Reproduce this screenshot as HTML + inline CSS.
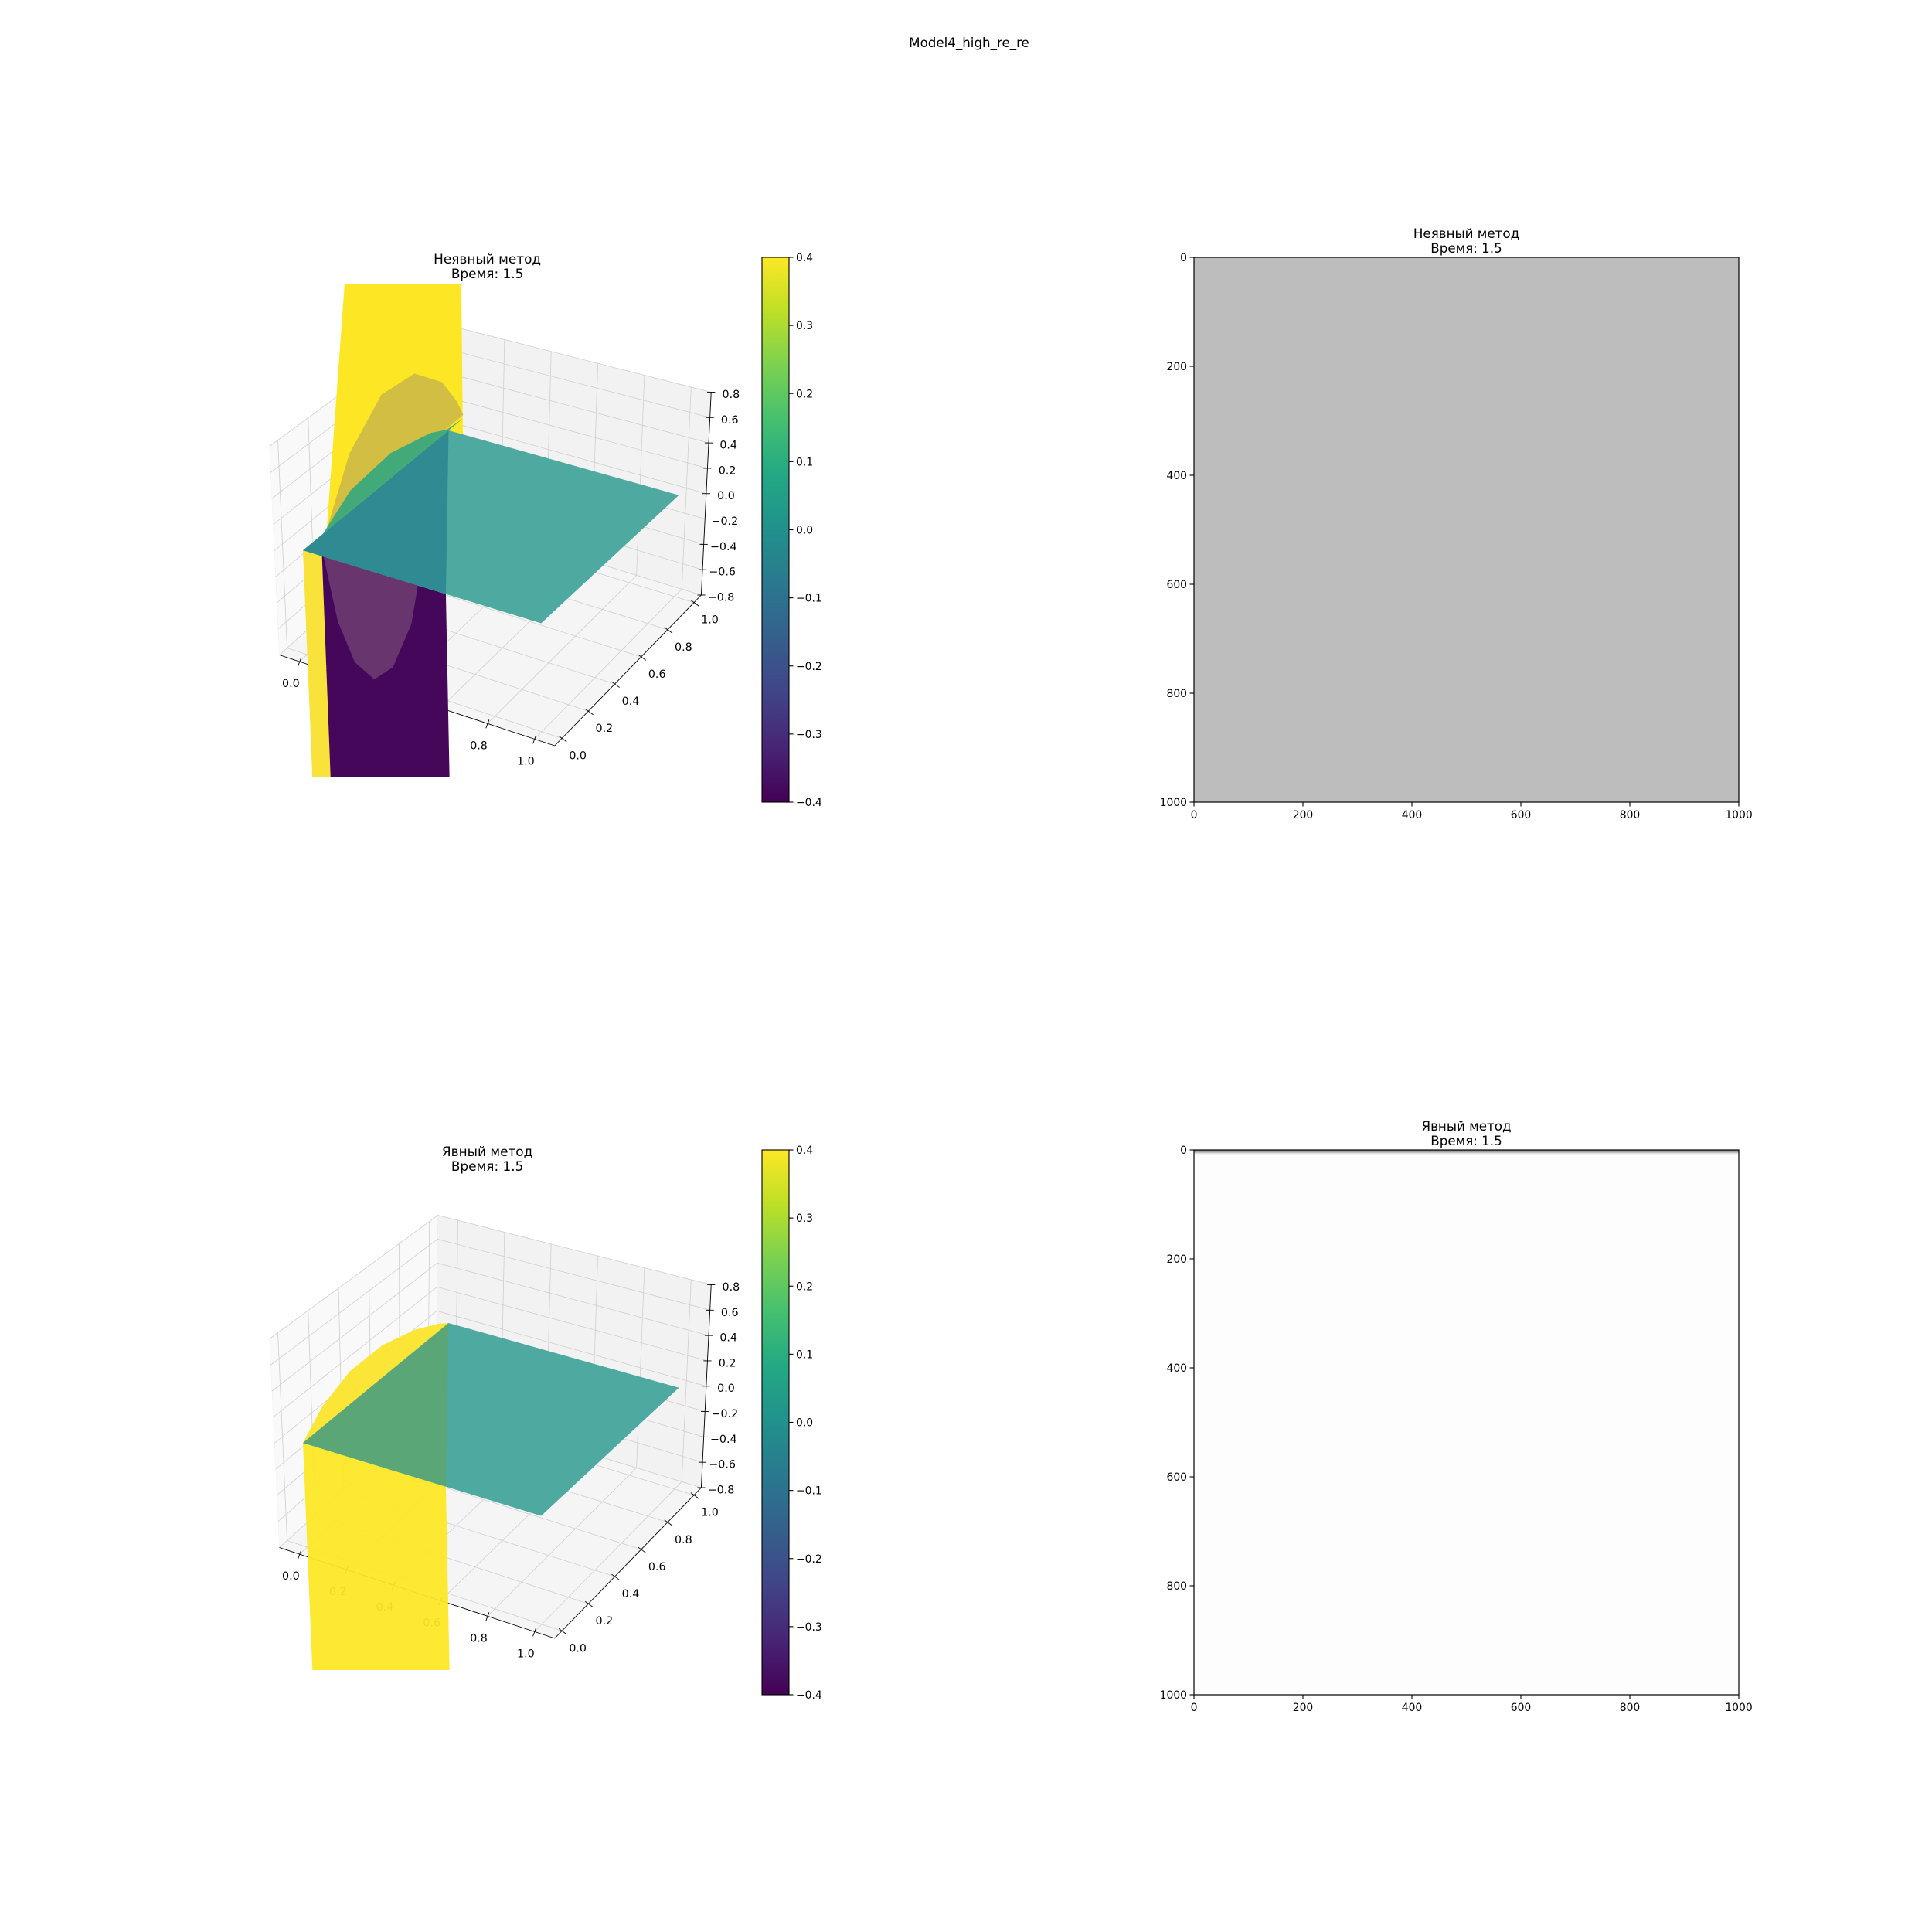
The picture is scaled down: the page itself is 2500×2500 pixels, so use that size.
<!DOCTYPE html>
<html><head><meta charset="utf-8"><style>
html,body{margin:0;padding:0;background:#fff;}
svg{display:block;font-family:"DejaVu Sans","Liberation Sans",sans-serif;}
</style></head><body>
<svg id="fig" width="2500" height="2500" viewBox="0 0 2500 2500" xmlns="http://www.w3.org/2000/svg">
<defs>
<linearGradient id="viridis" x1="0" y1="1" x2="0" y2="0">
<stop offset="0" stop-color="#440154"/><stop offset="0.1" stop-color="#482475"/><stop offset="0.2" stop-color="#414487"/><stop offset="0.3" stop-color="#355f8d"/><stop offset="0.4" stop-color="#2a788e"/><stop offset="0.5" stop-color="#21918c"/><stop offset="0.6" stop-color="#22a884"/><stop offset="0.7" stop-color="#44bf70"/><stop offset="0.8" stop-color="#7ad151"/><stop offset="0.9" stop-color="#bddf26"/><stop offset="1" stop-color="#fde725"/>
</linearGradient>
<clipPath id="clip3d"><rect x="0" y="145" width="1330" height="1277"/></clipPath>
</defs>
<text x="1254" y="61" font-size="16.7" text-anchor="middle">Model4_high_re_re</text>
<g id="top3d" transform="translate(300,295) scale(0.5126,0.5)"></g>
<g id="bot3d" transform="translate(300,1450) scale(0.5126,0.5)"></g>
<g id="cbTop"></g>
<g id="cbBot"></g>
<g id="imTop"></g>
<g id="imBot"></g>
</svg>
<script>
// ---- data ----
const xTicks3d = [0, 0.2, 0.4, 0.6, 0.8, 1.0];
const yTicks3d = [0, 0.2, 0.4, 0.6, 0.8, 1.0];
const zTicks3d = [-0.8, -0.6, -0.4, -0.2, 0, 0.2, 0.4, 0.6, 0.8];
const cbTicks = [-0.4, -0.3, -0.2, -0.1, 0, 0.1, 0.2, 0.3, 0.4];
const imTicks = [0, 200, 400, 600, 800, 1000];
// explicit method surface profiles
const botDomeY = [0, 0.137, 0.329, 0.548, 0.767, 0.93, 1.0];
const botDomeZ = [0, 0.154, 0.255, 0.255, 0.172, 0.062, 0];
const botSheetX = [0, 0.6];
const sheetDepth = -4;
// implicit method surface profiles
const upLobeY = [0.16, 0.329, 0.548, 0.767, 0.95, 1.05, 1.1];
const upLobeZ = [0, 0.45, 0.72, 0.69, 0.45, 0.2, 0.03];
const lowLobeY = [0.137, 0.219, 0.329, 0.466, 0.603, 0.74, 0.795, 0.822];
const lowLobeZ = [-0.18, -0.76, -1.19, -1.47, -1.52, -1.32, -1.02, -0.87];
const greenDomeY = [0.137, 0.329, 0.603, 0.877, 0.986, 1.1];
const greenDomeZ = [0, 0.16, 0.2, 0.1, 0.02, 0];
const upSheetY = [0.15, 0.421, 1.041, 1.10];
const upSheetZ = [-0.13, 3, 3, -0.153];
const topSheetSplitX = [0, 0.08, 0.6];
// heatmap rows (explicit): gray band at first rows
const bandRows = [0, 1, 2, 3, 4, 5, 6, 7];
const bandVals = [0.55, 0.45, 0.5, 0.62, 0.7, 0.8, 0.9, 0.95];

const NS = 'http://www.w3.org/2000/svg';
function mk(tag, attrs, parent) {
  const e = document.createElementNS(NS, tag);
  for (const k in attrs) e.setAttribute(k, attrs[k]);
  parent.appendChild(e);
  return e;
}
// ---- 3D projection (trilinear over box corners, panel-local coords) ----
const xlim = [-0.086, 1.086], ylim = [-0.055, 1.055], zlim = [-0.8, 0.8];
const PC = {
  '000': [120, 1105], '100': [815, 1340], '110': [1185, 950], '010': [515, 740],
  '001': [95, 565], '101': [812, 775], '111': [1210, 425], '011': [520, 245]
};
function proj(x, y, z) {
  const u = (x - xlim[0]) / (xlim[1] - xlim[0]);
  const v = (y - ylim[0]) / (ylim[1] - ylim[0]);
  const w = (z - zlim[0]) / (zlim[1] - zlim[0]);
  let px = 0, py = 0;
  for (const a of [0, 1]) for (const b of [0, 1]) for (const c of [0, 1]) {
    const wt = (a ? u : 1 - u) * (b ? v : 1 - v) * (c ? w : 1 - w);
    const p = PC['' + a + b + c];
    px += wt * p[0]; py += wt * p[1];
  }
  return [px, py];
}
function ptsStr(list) { return list.map(p => { const q = proj(p[0], p[1], p[2]); return q[0].toFixed(1) + ',' + q[1].toFixed(1); }).join(' '); }
function fmt(v) { const s = v.toFixed(1); return v < 0 ? '\u2212' + s.slice(1) : s; }

function drawAxes3d(g) {
  const X0 = xlim[0], X1 = xlim[1], Y0 = ylim[0], Y1 = ylim[1], Z0 = zlim[0], Z1 = zlim[1];
  const leftPane = mk('polygon', { points: ptsStr([[X0, Y0, Z0], [X0, Y1, Z0], [X0, Y1, Z1], [X0, Y0, Z1]]), fill: '#f9f9f9', stroke: '#f0f0f0' }, g);
  
  
  const backPane = mk('polygon', { points: ptsStr([[X0, Y1, Z0], [X1, Y1, Z0], [X1, Y1, Z1], [X0, Y1, Z1]]), fill: '#f2f2f2', stroke: '#ececec' }, g);
  
  
  const floor = mk('polygon', { points: ptsStr([[X0, Y0, Z0], [X1, Y0, Z0], [X1, Y1, Z0], [X0, Y1, Z0]]), fill: '#f5f5f5', stroke: '#eeeeee' }, g);
  
  
  const gs = { stroke: '#cfcfcf', 'stroke-width': 1.6, fill: 'none' };
  const grid = mk('g', {}, g);
  
  
  for (const t of yTicks3d) {
    mk('polyline', Object.assign({ points: ptsStr([[X1, t, Z0], [X0, t, Z0], [X0, t, Z1]]) }, gs), grid);
  }
  for (const t of xTicks3d) {
    mk('polyline', Object.assign({ points: ptsStr([[t, Y0, Z0], [t, Y1, Z0], [t, Y1, Z1]]) }, gs), grid);
  }
  for (const t of zTicks3d) {
    mk('polyline', Object.assign({ points: ptsStr([[X0, Y0, t], [X0, Y1, t], [X1, Y1, t]]) }, gs), grid);
  }
  const ax = mk('g', { stroke: '#000', 'stroke-width': 1.8 }, g);
  
  
  mk('polyline', { points: ptsStr([[X0, Y0, Z0], [X1, Y0, Z0]]), fill: 'none' }, ax);
  mk('polyline', { points: ptsStr([[X1, Y0, Z0], [X1, Y1, Z0]]), fill: 'none' }, ax);
  mk('polyline', { points: ptsStr([[X1, Y1, Z0], [X1, Y1, Z1]]), fill: 'none' }, ax);
  const lab = mk('g', { 'font-size': 27.8, fill: '#000', 'text-anchor': 'middle' }, g);
  
  
  for (const t of xTicks3d) {
    const p = proj(t, Y0, Z0);
    mk('line', { x1: p[0] + 4, y1: p[1] - 10, x2: p[0] - 4, y2: p[1] + 12, stroke: '#000', 'stroke-width': 1.8 }, ax);
    const tx = mk('text', { x: p[0] - 22, y: p[1] + 66 }, lab);
    tx.textContent = fmt(t);
  }
  for (const t of yTicks3d) {
    const p = proj(X1, t, Z0);
    mk('line', { x1: p[0] - 8, y1: p[1] - 6, x2: p[0] + 12, y2: p[1] + 9, stroke: '#000', 'stroke-width': 1.8 }, ax);
    const tx = mk('text', { x: p[0] + 40, y: p[1] + 54 }, lab);
    tx.textContent = fmt(t);
  }
  for (const t of zTicks3d) {
    const p = proj(X1, Y1, t);
    mk('line', { x1: p[0] - 10, y1: p[1], x2: p[0] + 10, y2: p[1], stroke: '#000', 'stroke-width': 1.8 }, ax);
    const tx = mk('text', { x: p[0] + 50, y: p[1] + 15 }, lab);
    tx.textContent = fmt(t);
  }
}
function title3d(g, line1) {
  const t = mk('text', { x: 645, y: 92, 'font-size': 33, 'text-anchor': 'middle' }, g);
  t.textContent = line1;
  
  
  const t2 = mk('text', { x: 645, y: 130, 'font-size': 33, 'text-anchor': 'middle' }, g);
  t2.textContent = 'Время: 1.5';
  
  
}
function planeAndPieces(s, triColor) {
  const plane = mk('polygon', { points: ptsStr([[0, 0, 0], [1, 0, 0], [1, 1, 0], [0, 1, 0]]), fill: '#4ea9a1' }, s);
  
  
  const tri = mk('polygon', { points: ptsStr([[0, 0, 0], [botSheetX[1], 0, 0], [0, 1, 0]]), fill: triColor, opacity: 0.9 }, s);
  
  
}

// ---- bottom 3D (explicit) ----
(function () {
  const g = document.getElementById('bot3d');
  title3d(g, 'Явный метод');
  drawAxes3d(g);
  const s = mk('g', { 'clip-path': 'url(#clip3d)' }, g);
  
  
  const dome = [];
  botDomeY.forEach((y, i) => dome.push([0, y, botDomeZ[i]]));
  const d = mk('polygon', { points: ptsStr(dome), fill: '#fbe52c', opacity: 0.95 }, s);
  
  
  const sh = mk('polygon', { points: ptsStr([[botSheetX[0], 0, 0], [botSheetX[1], 0, 0], [botSheetX[1], 0, sheetDepth], [botSheetX[0], 0, sheetDepth]]), fill: '#fde725', opacity: 0.94 }, s);
  
  
  planeAndPieces(s, '#5da572');
})();

// ---- top 3D (implicit) ----
(function () {
  const g = document.getElementById('top3d');
  title3d(g, 'Неявный метод');
  drawAxes3d(g);
  const s = mk('g', { 'clip-path': 'url(#clip3d)' }, g);
  
  
  const up = upSheetY.map((y, i) => [0, y, upSheetZ[i]]);
  const us = mk('polygon', { points: ptsStr(up), fill: '#fde725' }, s);
  
  
  const ys = mk('polygon', { points: ptsStr([[topSheetSplitX[0], 0, 0], [topSheetSplitX[1], 0, 0], [topSheetSplitX[1], 0, sheetDepth], [topSheetSplitX[0], 0, sheetDepth]]), fill: '#f9e23a' }, s);
  
  
  const ps = mk('polygon', { points: ptsStr([[topSheetSplitX[1], 0, 0], [topSheetSplitX[2], 0, 0], [topSheetSplitX[2], 0, sheetDepth], [topSheetSplitX[1], 0, sheetDepth]]), fill: '#45075a' }, s);
  
  
  const ul = upLobeY.map((y, i) => [0, y, upLobeZ[i]]);
  const ulp = mk('polygon', { points: ptsStr(ul), fill: '#cdbb45', opacity: 0.92 }, s);
  
  
  const ll = lowLobeY.map((y, i) => [0, y, lowLobeZ[i]]);
  ll.push([0, lowLobeY[lowLobeY.length - 1], 0]);
  const llp = mk('polygon', { points: ptsStr(ll), fill: '#6e3d73', opacity: 0.85 }, s);
  
  
  const gd = greenDomeY.map((y, i) => [0, y, greenDomeZ[i]]);
  const gdp = mk('polygon', { points: ptsStr(gd), fill: '#3aa97c', opacity: 0.95 }, s);
  
  
  planeAndPieces(s, '#2c8690');
})();

// ---- colorbars ----
function colorbar(gid, top) {
  const g = document.getElementById(gid);
  const x = 986, w = 35, h = 705, vmin = -0.4, vmax = 0.4;
  const yS = v => top + h - (v - vmin) / (vmax - vmin) * h;
  const r = mk('rect', { x: x, y: top, width: w, height: h, fill: 'url(#viridis)', stroke: '#000', 'stroke-width': 1.1 }, g);
  
  
  for (const t of cbTicks) {
    const y = yS(t);
    mk('line', { x1: x + w, y1: y, x2: x + w + 5.5, y2: y, stroke: '#000', 'stroke-width': 1.1 }, g);
    const tx = mk('text', { x: x + w + 9, y: y + 5, 'font-size': 13.9 }, g);
    tx.textContent = fmt(t);
    
    
  }
}
colorbar('cbTop', 333);
colorbar('cbBot', 1488);

// ---- heatmaps ----
function heatmap(gid, top, fill, title, rows, vals) {
  const g = document.getElementById(gid);
  const x0 = 1545, size = 705;
  const sc = v => v / 1000 * size;
  const bg = mk('rect', { x: x0, y: top, width: size, height: size, fill: fill }, g);
  
  
  rows.forEach((r, i) => {
    const c = Math.round(vals[i] * 255);
    const cell = mk('rect', { x: x0, y: top + sc(r), width: size, height: sc(1) + 0.3, fill: 'rgb(' + c + ',' + c + ',' + c + ')' }, g);
    
    
  });
  const fr = mk('rect', { x: x0, y: top, width: size, height: size, fill: 'none', stroke: '#000', 'stroke-width': 1.2 }, g);
  
  
  for (const t of imTicks) {
    const px = x0 + sc(t), py = top + sc(t);
    mk('line', { x1: px, y1: top + size, x2: px, y2: top + size + 5.5, stroke: '#000', 'stroke-width': 1.1 }, g);
    const tx = mk('text', { x: px, y: top + size + 21, 'font-size': 13.9, 'text-anchor': 'middle' }, g);
    tx.textContent = t;
    
    
    mk('line', { x1: x0, y1: py, x2: x0 - 5.5, y2: py, stroke: '#000', 'stroke-width': 1.1 }, g);
    const ty = mk('text', { x: x0 - 9, y: py + 5, 'font-size': 13.9, 'text-anchor': 'end' }, g);
    ty.textContent = t;
    
    
  }
  const t1 = mk('text', { x: x0 + size / 2, y: top - 25, 'font-size': 16.7, 'text-anchor': 'middle' }, g);
  t1.textContent = title;
  
  
  const t2 = mk('text', { x: x0 + size / 2, y: top - 6, 'font-size': 16.7, 'text-anchor': 'middle' }, g);
  t2.textContent = 'Время: 1.5';
  
  
}
heatmap('imTop', 333, '#bdbdbd', 'Неявный метод', [], []);
heatmap('imBot', 1488, '#fdfdfd', 'Явный метод', bandRows, bandVals);
</script>
</body></html>
